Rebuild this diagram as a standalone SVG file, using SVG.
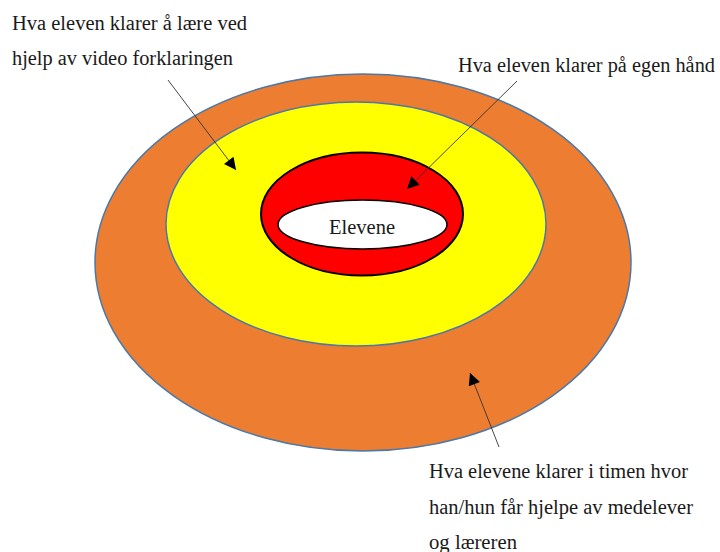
<svg xmlns="http://www.w3.org/2000/svg" width="720" height="552" viewBox="0 0 720 552">
<style>
  text { font-family: "Liberation Serif", "Times New Roman", serif; font-size: 20.5px; fill: #1a1a1a; }
  .ring { stroke: #4a78a8; stroke-width: 1.5; }
  .conn { stroke: #333; stroke-width: 0.9; fill: none; marker-end: url(#ah); }
</style>
<defs>
  <marker id="ah" viewBox="0 0 10 10" refX="10" refY="5" markerWidth="14" markerHeight="12" markerUnits="userSpaceOnUse" orient="auto">
    <path d="M0,0 L10,5 L0,10 Z" fill="#000"/>
  </marker>
</defs>
<rect width="720" height="552" fill="#fff"/>
<g id="outer">
  <ellipse class="ring" cx="363" cy="262.5" rx="268" ry="188.5" fill="#ED7D31"/>
</g>
<g id="middle">
  <ellipse class="ring" cx="356" cy="224" rx="190" ry="122" fill="#FFFF00"/>
</g>
<g id="inner">
  <ellipse cx="362" cy="214" rx="101" ry="61.5" fill="#FF0000" stroke="#000" stroke-width="2"/>
</g>
<g id="elevene">
  <ellipse cx="362.5" cy="224.5" rx="84.5" ry="24.5" fill="#fff" stroke="#000" stroke-width="1.5"/>
  <text x="362" y="233.5" text-anchor="middle" font-size="21.5">Elevene</text>
</g>
<g id="label-video">
  <text x="12" y="30" textLength="235" lengthAdjust="spacingAndGlyphs">Hva eleven klarer å lære ved</text>
  <text x="12" y="65" textLength="221" lengthAdjust="spacingAndGlyphs">hjelp av video forklaringen</text>
</g>
<g id="label-egen">
  <text x="458" y="72" textLength="257" lengthAdjust="spacingAndGlyphs">Hva eleven klarer på egen hånd</text>
</g>
<g id="label-timen">
  <text x="429" y="478" textLength="259" lengthAdjust="spacingAndGlyphs">Hva elevene klarer i timen hvor</text>
  <text x="429" y="514" textLength="264" lengthAdjust="spacingAndGlyphs">han/hun får hjelpe av medelever</text>
  <text x="429" y="549" textLength="88" lengthAdjust="spacingAndGlyphs">og læreren</text>
</g>
<g id="connectors">
  <line class="conn" x1="168" y1="80" x2="236" y2="170"/>
  <line class="conn" x1="517" y1="81" x2="407" y2="189"/>
  <line class="conn" x1="499" y1="447" x2="470" y2="373"/>
</g>
</svg>
